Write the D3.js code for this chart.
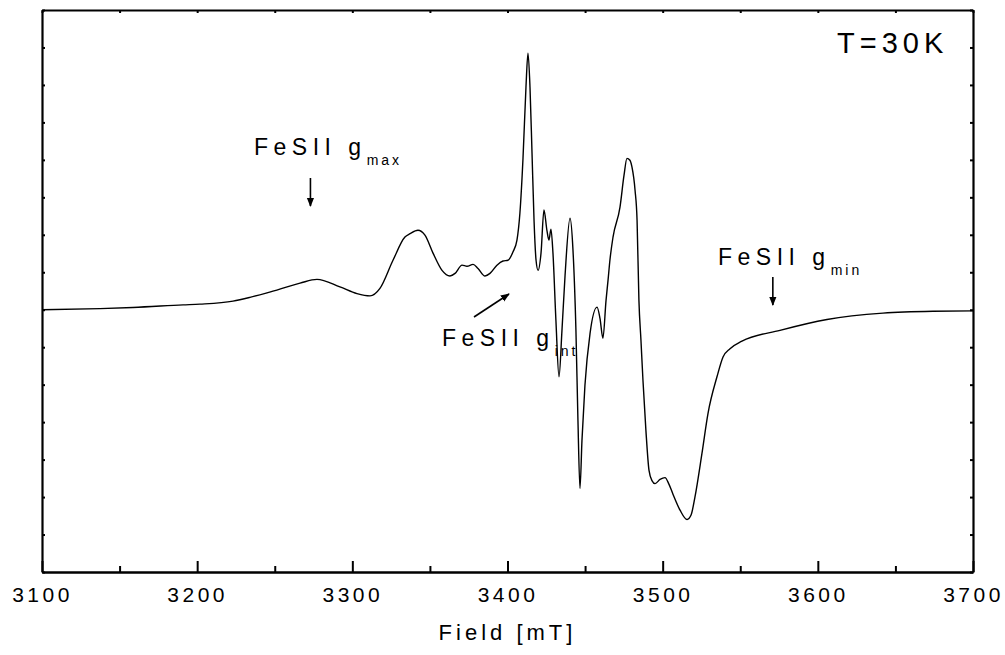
<!DOCTYPE html>
<html>
<head>
<meta charset="utf-8">
<script src="https://cdn.jsdelivr.net/npm/d3@7/dist/d3.min.js"></script>
<style>
    body { margin: 0; background: #fff; }
    text { font-family: "Liberation Sans", Arial, sans-serif; fill: #000; }
</style>
</head>
<body>
<svg id="chart" width="1005" height="655"></svg>
<script>
// Magnetic field (mT).
let field = [
    3100.0, 3137.4, 3158.6, 3190.9, 3201.8, 3223.1, 3234.0, 3245.0, 3266.3, 3277.2, 3292.0,
    3303.0, 3311.4, 3317.8, 3326.2, 3333.9, 3337.2, 3342.3, 3346.8, 3352.0, 3357.8,
    3362.9, 3366.2, 3370.7, 3373.9, 3377.8, 3381.0, 3385.5, 3388.7, 3393.2, 3397.1,
    3400.3, 3403.5, 3406.1, 3408.0, 3410.0, 3411.9, 3413.2, 3414.5, 3415.8, 3417.1,
    3418.4, 3419.7, 3421.6, 3423.5, 3425.4, 3426.7, 3428.0, 3429.3, 3431.2, 3433.2,
    3435.1, 3437.1, 3440.3, 3442.2, 3444.1, 3445.4, 3446.7, 3448.0, 3449.9, 3453.2,
    3457.7, 3459.6, 3461.5, 3463.5, 3464.8, 3466.0, 3468.0, 3472.5, 3475.1, 3477.0,
    3478.9, 3480.2, 3482.2, 3483.5, 3484.7, 3486.0, 3487.3, 3489.2, 3491.2, 3493.1,
    3495.1, 3498.3, 3501.5, 3504.1, 3506.7, 3511.2, 3515.7, 3518.3, 3520.8, 3525.3,
    3529.2, 3535.0, 3538.9, 3543.4, 3551.1, 3575.6, 3605.9, 3642.0, 3674.2, 3700.0
];

// EPR derivative signal (arbitrary units).
let signal = [
    0.00, 0.03, 0.06, 0.13, 0.15, 0.23, 0.33, 0.45, 0.71, 0.81, 0.61,
    0.43, 0.37, 0.57, 1.32, 1.94, 2.03, 2.12, 1.99, 1.51, 1.05,
    0.90, 0.97, 1.19, 1.16, 1.21, 1.10, 0.90, 0.97, 1.19, 1.30,
    1.32, 1.54, 1.86, 2.58, 4.05, 5.94, 6.85, 5.94, 4.18, 2.39,
    1.32, 1.05, 1.51, 2.66, 2.12, 1.86, 2.15, 1.51, -0.28, -1.79,
    -0.55, 0.92, 2.44, 1.59, -0.55, -2.95, -4.77, -3.48, -2.02, -0.63,
    0.07, -0.23, -0.76, 0.25, 0.79, 1.32, 1.94, 2.74, 3.59, 4.04,
    3.99, 3.81, 3.19, 2.39, 0.25, -0.81, -1.88, -3.22, -4.29, -4.56,
    -4.64, -4.53, -4.48, -4.66, -4.93, -5.35, -5.60, -5.48, -5.00, -3.84,
    -2.77, -1.79, -1.26, -1.04, -0.84, -0.55, -0.26, -0.09, -0.04, -0.03
];

// Axis ticks.
let majorTicks = [3100, 3200, 3300, 3400, 3500, 3600, 3700];
let minorTicks = [3150, 3250, 3350, 3450, 3550, 3650];
let yTicks = d3.range(-7, 9);

// Annotations: label, subscript, field position of the arrow.
let labels = [
    { main: "FeSII g", sub: "max", at: 3273 },
    { main: "FeSII g", sub: "int", at: 3400 },
    { main: "FeSII g", sub: "min", at: 3571 }
];

// Display parameters.
let margin = { top: 10, right: 32, bottom: 83, left: 42 };
let width = 1005 - margin.left - margin.right;
let height = 655 - margin.top - margin.bottom;

let svg = d3.select("#chart");
let g = svg.append("g")
    .attr("transform", `translate(${margin.left},${margin.top})`);

let x = d3.scaleLinear().domain([3100, 3700]).range([0, width]);
let y = d3.scaleLinear().domain([-7, 8]).range([height, 0]);

// Arrow head marker.
svg.append("defs").append("marker")
    .attr("id", "head")
    .attr("viewBox", "0 0 10 10")
    .attr("refX", 9)
    .attr("refY", 5)
    .attr("markerWidth", 9)
    .attr("markerHeight", 9)
    .attr("markerUnits", "userSpaceOnUse")
    .attr("orient", "auto")
    .append("path")
    .attr("d", "M0,1 L10,5 L0,9 Z")
    .attr("fill", "#000");

// Bottom axis: major ticks with labels, minor ticks without.
let bottom = g.append("g")
    .attr("transform", `translate(0,${height})`)
    .call(d3.axisBottom(x).tickValues(majorTicks)
        .tickFormat(d3.format("d"))
        .tickSizeInner(-11).tickSizeOuter(0).tickPadding(15));
bottom.selectAll("text")
    .style("font-size", "21px")
    .style("letter-spacing", "3.5px");

g.append("g")
    .attr("transform", `translate(0,${height})`)
    .call(d3.axisBottom(x).tickValues(minorTicks)
        .tickFormat("").tickSizeInner(-6).tickSizeOuter(0));

// Top axis: small inward ticks.
g.append("g")
    .call(d3.axisTop(x).tickValues(majorTicks.concat(minorTicks))
        .tickFormat("").tickSizeInner(-3).tickSizeOuter(0));

// Left and right axes: small inward ticks, no labels.
g.append("g")
    .call(d3.axisLeft(y).tickValues(yTicks)
        .tickFormat("").tickSizeInner(-3).tickSizeOuter(0));
g.append("g")
    .attr("transform", `translate(${width},0)`)
    .call(d3.axisRight(y).tickValues(yTicks)
        .tickFormat("").tickSizeInner(-3).tickSizeOuter(0));

g.selectAll(".domain").attr("stroke-width", 2.2);
g.selectAll(".tick line").attr("stroke-width", 2);

// Spectrum trace.
let points = field.map(function(f, i) {
    return [f, signal[i]];
});

let line = d3.line()
    .x(function(d) { return x(d[0]); })
    .y(function(d) { return y(d[1]); })
    .curve(d3.curveMonotoneX);

g.append("path")
    .datum(points)
    .attr("d", line)
    .attr("fill", "none")
    .attr("stroke", "#000")
    .attr("stroke-width", 1.4);

// Temperature label.
g.append("text")
    .attr("x", 837 - margin.left)
    .attr("y", 53 - margin.top)
    .style("font-size", "29px")
    .style("letter-spacing", "5px")
    .text("T=30K");

// Peak labels, placed in pixels relative to the plot.
let labelPos = [
    { tx: 254, ty: 155, arrow: [[x(labels[0].at), 178 - margin.top], [x(labels[0].at), 206 - margin.top]] },
    { tx: 442, ty: 346, arrow: [[474 - margin.left, 317 - margin.top], [509 - margin.left, 294 - margin.top]] },
    { tx: 718, ty: 265, arrow: [[x(labels[2].at), 277 - margin.top], [x(labels[2].at), 305 - margin.top]] }
];

labels.forEach(function(d, i) {
    let p = labelPos[i];

    let t = g.append("text")
        .attr("x", p.tx - margin.left)
        .attr("y", p.ty - margin.top)
        .style("font-size", "23px")
        .style("letter-spacing", "5.5px");
    t.append("tspan").text(d.main);
    t.append("tspan")
        .attr("dy", 10)
        .style("font-size", "14px")
        .style("letter-spacing", "3px")
        .text(d.sub);

    g.append("line")
        .attr("x1", p.arrow[0][0])
        .attr("y1", p.arrow[0][1])
        .attr("x2", p.arrow[1][0])
        .attr("y2", p.arrow[1][1])
        .attr("stroke", "#000")
        .attr("stroke-width", 1.6)
        .attr("marker-end", "url(#head)");
});

// Axis title.
g.append("text")
    .attr("x", width / 2)
    .attr("y", 640 - margin.top)
    .attr("text-anchor", "middle")
    .style("font-size", "22px")
    .style("letter-spacing", "4px")
    .text("Field [mT]");
</script>
</body>
</html>
